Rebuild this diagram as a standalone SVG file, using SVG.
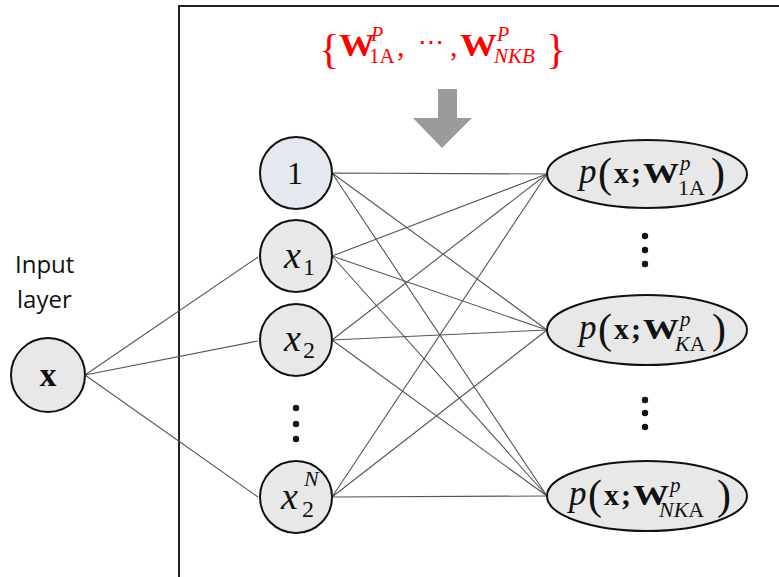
<svg xmlns="http://www.w3.org/2000/svg" width="779" height="577" viewBox="0 0 779 577">
<style>
.node{fill:#e8e8e8;stroke:#111;stroke-width:2}
.bias{fill:#e4e8ef;stroke:#111;stroke-width:2}
.edge{stroke:#555;stroke-width:1.1;fill:none}
.m{font-family:"Liberation Serif","DejaVu Serif",serif;fill:#111}
.i{font-style:italic}
.b{font-weight:bold}
.red{font-family:"Liberation Serif","DejaVu Serif",serif;fill:#ff0000}
.lab{font-family:"Open Sans","Noto Sans",sans-serif;font-size:24px;fill:#111}
.dot{fill:#111}
</style>
<rect x="179" y="6" width="620" height="580" fill="none" stroke="#222" stroke-width="2"/>
<g id="connectors">
<path class="edge" d="M85,375L258,257M85,375L258,341M85,375L258,497"/>
<path class="edge" d="M332,173L547,174M332,173L547,330M332,173L547,496"/>
<path class="edge" d="M332,256L547,174M332,256L547,330M332,256L547,496"/>
<path class="edge" d="M332,340L547,174M332,340L547,330M332,340L547,496"/>
<path class="edge" d="M332,497L547,174M332,497L547,330M332,497L547,496"/>
</g>
<g id="weights">
<text class="red"><tspan x="319" y="63" font-size="42">{</tspan><tspan x="339" y="56" font-size="32" class="b" textLength="36" lengthAdjust="spacingAndGlyphs">W</tspan><tspan x="371" y="41" font-size="20" class="i">P</tspan><tspan x="369" y="63" font-size="21">1A</tspan><tspan x="397" y="56" font-size="30">,</tspan><tspan x="418" y="51" font-size="26">⋯</tspan><tspan x="450" y="56" font-size="30">,</tspan><tspan x="460" y="56" font-size="32" class="b" textLength="37" lengthAdjust="spacingAndGlyphs">W</tspan><tspan x="497" y="41" font-size="20" class="i">P</tspan><tspan x="494" y="63" font-size="21" class="i">NKB</tspan><tspan x="546" y="63" font-size="42">}</tspan></text>
</g>
<g id="arrow"><polygon points="438,89 457,89 457,118 472,118 442,148 413,118 438,118" fill="#9b9b9b"/></g>
<g id="input-label"><text class="lab"><tspan x="15" y="273">Input</tspan><tspan x="17" y="308">layer</tspan></text></g>
<g id="node-x"><circle class="node" cx="48" cy="375" r="37"/><text class="m b" x="48" y="386" font-size="34" text-anchor="middle">x</text></g>
<g id="node-1"><circle class="bias" cx="296" cy="173" r="36"/><text class="m" x="295" y="184" font-size="32" text-anchor="middle">1</text></g>
<g id="node-x1"><circle class="node" cx="296" cy="256" r="36"/><text class="m"><tspan x="284" y="268" font-size="38" class="i">x</tspan><tspan x="303" y="275" font-size="24">1</tspan></text></g>
<g id="node-x2"><circle class="node" cx="296" cy="340" r="36"/><text class="m"><tspan x="284" y="351" font-size="38" class="i">x</tspan><tspan x="303" y="358" font-size="24">2</tspan></text></g>
<g id="dots-left"><circle class="dot" cx="296" cy="408" r="3.2"/><circle class="dot" cx="296" cy="424" r="3.2"/><circle class="dot" cx="296" cy="439" r="3.2"/></g>
<g id="node-xN"><circle class="node" cx="296" cy="497" r="36"/><text class="m"><tspan x="281" y="509" font-size="38" class="i">x</tspan><tspan x="304" y="486" font-size="22" class="i">N</tspan><tspan x="302" y="517" font-size="24">2</tspan></text></g>
<g id="out-1"><ellipse class="node" cx="647" cy="174" rx="100" ry="34"/>
<text class="m"><tspan x="579" y="183" font-size="35" class="i">p</tspan><tspan x="598" y="187" font-size="42">(</tspan><tspan x="614" y="183" font-size="30" class="b">x</tspan><tspan x="631" y="183" font-size="30" class="b">;</tspan><tspan x="643" y="183" font-size="30" class="b" textLength="36" lengthAdjust="spacingAndGlyphs">W</tspan><tspan x="680" y="170" font-size="21" class="i">p</tspan><tspan x="678" y="195" font-size="22">1A</tspan><tspan x="711" y="187" font-size="42">)</tspan></text></g>
<g id="dots-r1"><circle class="dot" cx="645" cy="236" r="3.2"/><circle class="dot" cx="645" cy="250" r="3.2"/><circle class="dot" cx="645" cy="264" r="3.2"/></g>
<g id="out-K"><ellipse class="node" cx="647" cy="330" rx="100" ry="35"/>
<text class="m"><tspan x="579" y="339" font-size="35" class="i">p</tspan><tspan x="598" y="343" font-size="42">(</tspan><tspan x="614" y="339" font-size="30" class="b">x</tspan><tspan x="631" y="339" font-size="30" class="b">;</tspan><tspan x="643" y="339" font-size="30" class="b" textLength="36" lengthAdjust="spacingAndGlyphs">W</tspan><tspan x="680" y="326" font-size="21" class="i">p</tspan><tspan x="675" y="351" font-size="22" class="i">K</tspan><tspan font-size="22">A</tspan><tspan x="712" y="343" font-size="42">)</tspan></text></g>
<g id="dots-r2"><circle class="dot" cx="645" cy="400" r="3.2"/><circle class="dot" cx="645" cy="413" r="3.2"/><circle class="dot" cx="645" cy="427" r="3.2"/></g>
<g id="out-N"><ellipse class="node" cx="647" cy="496" rx="100" ry="35"/>
<text class="m"><tspan x="569" y="505" font-size="35" class="i">p</tspan><tspan x="588" y="509" font-size="42">(</tspan><tspan x="604" y="505" font-size="30" class="b">x</tspan><tspan x="621" y="505" font-size="30" class="b">;</tspan><tspan x="633" y="505" font-size="30" class="b" textLength="36" lengthAdjust="spacingAndGlyphs">W</tspan><tspan x="670" y="492" font-size="21" class="i">p</tspan><tspan x="659" y="517" font-size="22" class="i">NK</tspan><tspan font-size="22">A</tspan><tspan x="717" y="509" font-size="42">)</tspan></text></g>
</svg>
